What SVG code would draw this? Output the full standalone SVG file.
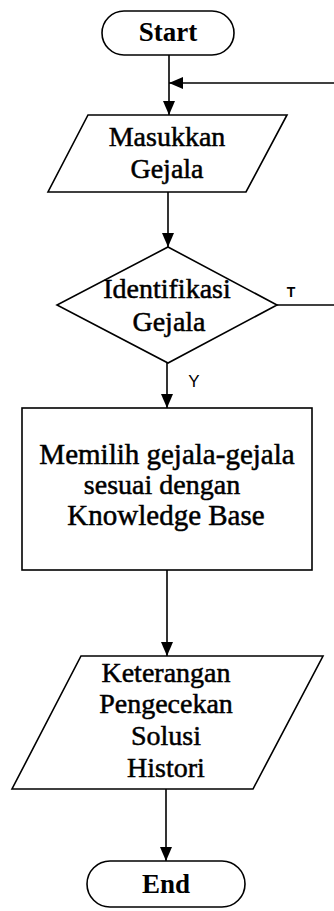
<svg xmlns="http://www.w3.org/2000/svg" width="334" height="911" viewBox="0 0 334 911">
  <style>
    .shape { fill: #ffffff; stroke: #000000; stroke-width: 1.6; }
    .edge { fill: none; stroke: #000000; stroke-width: 1.6; }
    .lbl { font-family: "Liberation Serif", "Times New Roman", serif; font-size: 28px; fill: #000000; stroke: #000000; stroke-width: 0.5; text-anchor: middle; }
    .big { font-size: 29px; }
    .term { font-family: "Liberation Serif", "Times New Roman", serif; font-size: 27px; font-weight: bold; fill: #000000; text-anchor: middle; }
    .flag { font-family: "Liberation Sans", Arial, sans-serif; fill: #000000; text-anchor: middle; }
  </style>
  <defs>
    <marker id="arrow" markerUnits="userSpaceOnUse" markerWidth="14" markerHeight="12" refX="14" refY="6" orient="auto">
      <path d="M0,0 L14,6 L0,12 z" fill="#000000"/>
    </marker>
  </defs>
  <rect width="334" height="911" fill="#ffffff"/>

  <!-- connectors -->
  <g id="connectors">
    <line class="edge" x1="169" y1="55" x2="169" y2="115" marker-end="url(#arrow)"/>
    <line class="edge" x1="334" y1="83" x2="169" y2="83" marker-end="url(#arrow)"/>
    <line class="edge" x1="168" y1="192" x2="168" y2="247" marker-end="url(#arrow)"/>
    <line class="edge" x1="277" y1="305" x2="334" y2="305"/>
    <line class="edge" x1="167" y1="363" x2="167" y2="408" marker-end="url(#arrow)"/>
    <line class="edge" x1="167" y1="570" x2="167" y2="656" marker-end="url(#arrow)"/>
    <line class="edge" x1="166" y1="789" x2="166" y2="861" marker-end="url(#arrow)"/>
    <text class="flag" x="291" y="297" font-size="14" font-weight="bold">T</text>
    <text class="flag" x="194" y="387" font-size="17">Y</text>
  </g>

  <!-- start terminal -->
  <g id="start">
    <rect class="shape" x="102" y="11" width="132" height="44" rx="22" ry="22"/>
    <text class="term" x="168" y="41">Start</text>
  </g>

  <!-- symptom input -->
  <g id="input-gejala">
    <polygon class="shape" points="88,115 287,115 246,192 48,192"/>
    <text class="lbl" x="167" y="146">Masukkan</text>
    <text class="lbl" x="167" y="178">Gejala</text>
  </g>

  <!-- identification decision -->
  <g id="identifikasi">
    <polygon class="shape" points="168,247 277,305 168,363 57,305"/>
    <text class="lbl" x="167" y="298">Identifikasi</text>
    <text class="lbl" x="169" y="331">Gejala</text>
  </g>

  <!-- knowledge base matching -->
  <g id="pilih-gejala">
    <rect class="shape" x="22" y="408" width="290" height="162"/>
    <text class="lbl big" x="167" y="464">Memilih gejala-gejala</text>
    <text class="lbl" x="162" y="494">sesuai dengan</text>
    <text class="lbl big" x="166" y="525">Knowledge Base</text>
  </g>

  <!-- result output -->
  <g id="keterangan">
    <polygon class="shape" points="81,656 323,656 253,789 12,789"/>
    <text class="lbl" x="166" y="682">Keterangan</text>
    <text class="lbl" x="166" y="713">Pengecekan</text>
    <text class="lbl" x="166" y="745">Solusi</text>
    <text class="lbl" x="166" y="777">Histori</text>
  </g>

  <!-- end terminal -->
  <g id="end">
    <rect class="shape" x="87" y="861" width="158" height="46" rx="23" ry="23"/>
    <text class="term" x="166" y="893">End</text>
  </g>
</svg>
